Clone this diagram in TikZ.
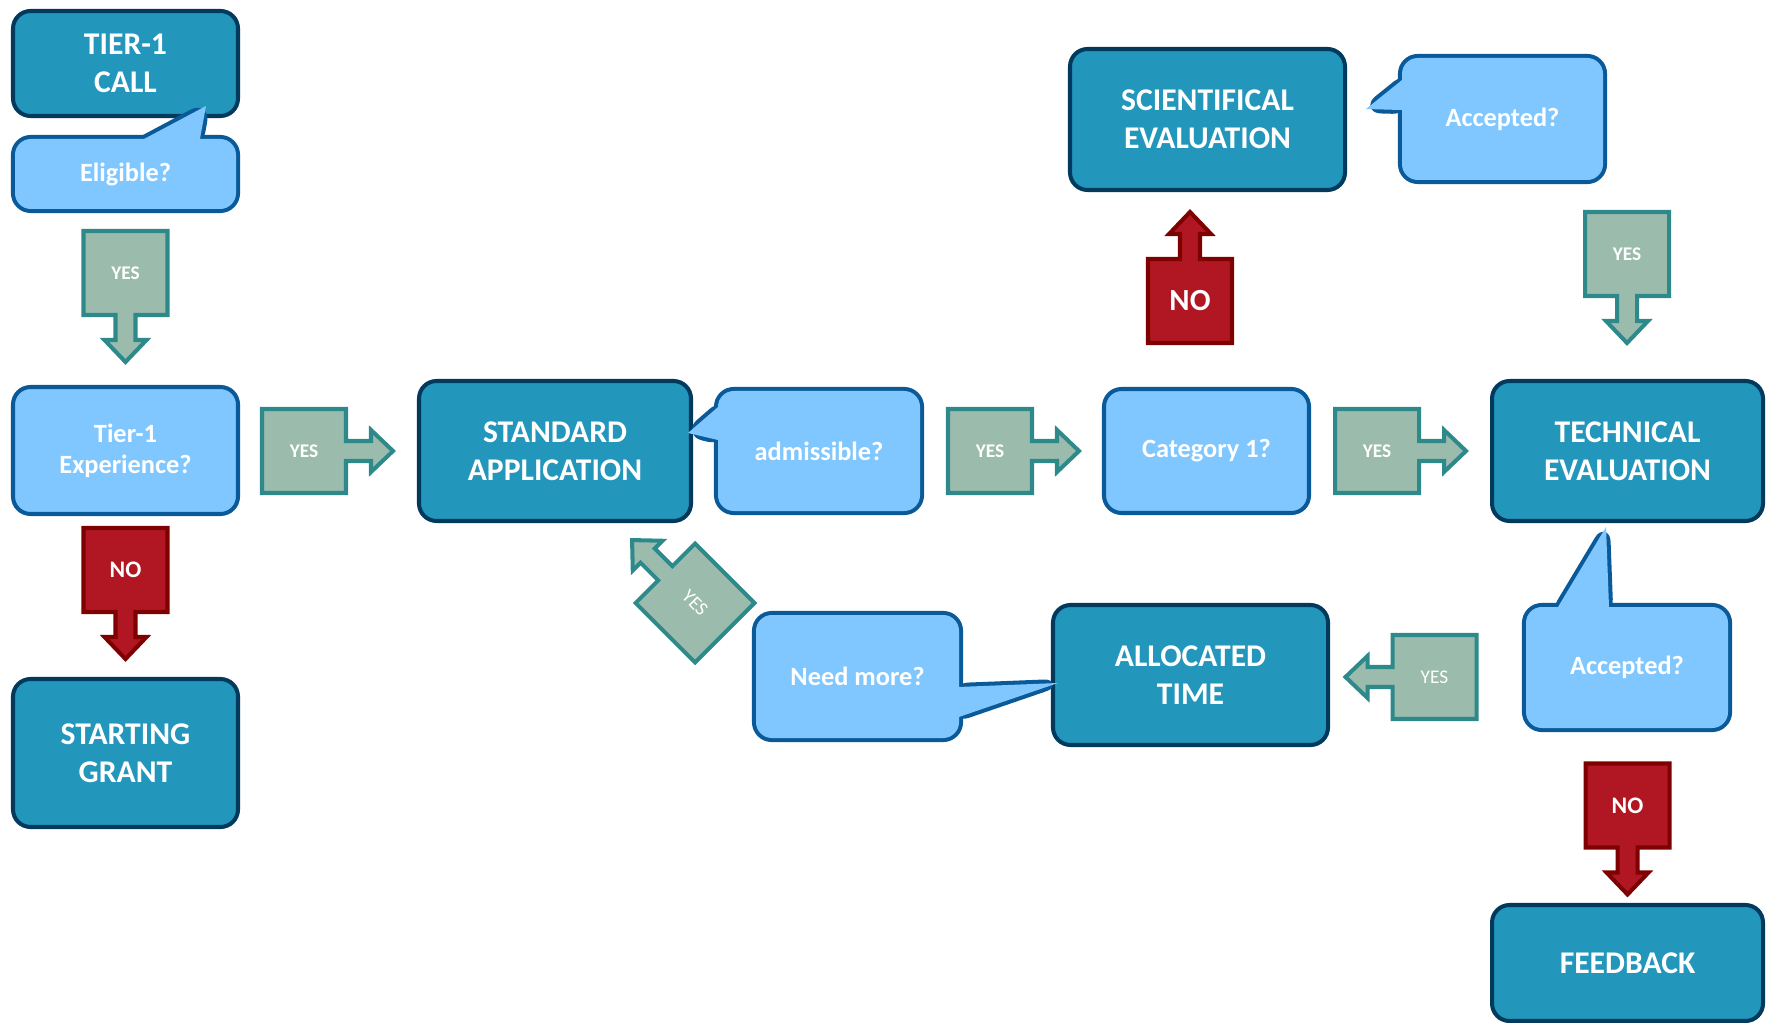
\documentclass[tikz,border=0pt]{standalone}
\usepackage{fontspec}
\setmainfont{Carlito}
\definecolor{dkfill}{RGB}{35,150,187}
\definecolor{dkline}{RGB}{2,58,94}
\definecolor{ltfill}{RGB}{128,199,255}
\definecolor{ltline}{RGB}{10,90,153}
\definecolor{yesfill}{RGB}{155,187,173}
\definecolor{yesline}{RGB}{46,138,138}
\definecolor{nofill}{RGB}{176,23,34}
\definecolor{noline}{RGB}{127,0,0}
\newcommand\pxu{0.02cm}
\newcommand\blockarr[7]{%
  \begin{scope}[shift={(#2,#3)},rotate=#4]
    \draw[#5] (-42,-42) -- (42,-42) -- (42,-10) -- (67,-10) -- (67,-21) -- (89,0) -- (67,21) -- (67,10) -- (42,10) -- (42,42) -- (-42,42) -- cycle;
  \end{scope}
  \node[#6] (#1) at (#2,#3) {#7};
}
\begin{document}
\begin{tikzpicture}[x=0.02cm,y=-0.02cm,
  darkbox/.style={draw=dkline, fill=dkfill, line width=2.3pt, rounded corners=10pt,
    text=white, align=center, inner sep=0pt, font=\bfseries\fontsize{18}{21.5}\selectfont},
  lightbox/.style={draw=ltline, fill=ltfill, line width=2.3pt, rounded corners=10pt,
    text=white, align=center, inner sep=0pt, font=\bfseries\fontsize{15}{17.5}\selectfont},
  callbg/.style={draw=ltline, fill=ltfill, line width=4.6pt, rounded corners=9pt, line join=round, inner sep=0pt},
  callfg/.style={fill=ltfill, rounded corners=9pt, inner sep=0pt, text=white,
    font=\bfseries\fontsize{15}{17.5}\selectfont},
  yesarr/.style={draw=yesline, fill=yesfill, line width=2.3pt},
  noarr/.style={draw=noline, fill=nofill, line width=2.3pt},
  yeslbl/.style={text=white, inner sep=0pt, font=\bfseries\fontsize{11}{13}\selectfont},
  yeslblr/.style={text=white, inner sep=0pt, font=\fontsize{11}{13}\selectfont},
  nolbl/.style={text=white, inner sep=0pt, font=\bfseries\fontsize{13.5}{15}\selectfont},
  nobig/.style={text=white, inner sep=0pt, font=\bfseries\fontsize{17.5}{20}\selectfont},
]
\useasboundingbox (0,0) rectangle (1767,1023);

% dark boxes
\node[darkbox, minimum width=225*\pxu, minimum height=105*\pxu] (call) at (125.5,63.5) {TIER-1\\CALL};
\node[darkbox, minimum width=225*\pxu, minimum height=148*\pxu] (grant) at (125.5,753) {STARTING\\GRANT};
\node[darkbox, minimum width=272*\pxu, minimum height=140*\pxu] (std) at (555,451) {STANDARD\\APPLICATION};
\node[darkbox, minimum width=275*\pxu, minimum height=141*\pxu] (sci) at (1207.5,119.5) {SCIENTIFICAL\\EVALUATION};
\node[darkbox, minimum width=271*\pxu, minimum height=140*\pxu] (tech) at (1627.5,451) {TECHNICAL\\EVALUATION};
\node[darkbox, minimum width=275*\pxu, minimum height=140*\pxu] (alloc) at (1190.5,675) {ALLOCATED\\TIME};
\node[darkbox, minimum width=271*\pxu, minimum height=116*\pxu] (feed) at (1627.5,963) {FEEDBACK};

% light plain boxes
\node[lightbox, minimum width=225*\pxu, minimum height=127*\pxu] (exp) at (125.5,450.5) {Tier-1\\Experience?};
\node[lightbox, minimum width=205*\pxu, minimum height=124*\pxu] (cat) at (1206.5,451) {Category 1?};

% callouts
% Eligible?
\node[callbg, minimum width=221*\pxu, minimum height=70*\pxu] (elig-bg) at (125.5,174) {};
\draw[callbg] (129,147) -- (206,106) -- (198.5,147) -- cycle;
\fill[ltfill] (129,147) -- (206,106) -- (198.5,147) -- cycle;
\node[callfg, minimum width=221*\pxu, minimum height=70*\pxu] (elig) at (125.5,174) {Eligible?};
% admissible?
\node[callbg, minimum width=202*\pxu, minimum height=120*\pxu] (adm-bg) at (819,451) {};
\draw[callbg] (724,401.8) -- (688,433) -- (724,441.4) -- cycle;
\fill[ltfill] (724,401.8) -- (688,433) -- (724,441.4) -- cycle;
\node[callfg, minimum width=202*\pxu, minimum height=120*\pxu] (adm) at (819,451) {admissible?};
% Accepted? (scientific)
\node[callbg, minimum width=201*\pxu, minimum height=122*\pxu] (acc1-bg) at (1502.5,119) {};
\draw[callbg] (1408,75.2) -- (1366,109) -- (1408,110.2) -- cycle;
\fill[ltfill] (1408,75.2) -- (1366,109) -- (1408,110.2) -- cycle;
\node[callfg, minimum width=201*\pxu, minimum height=122*\pxu] (acc1) at (1502.5,119) {Accepted?};
% Accepted? (technical)
\node[callbg, minimum width=202*\pxu, minimum height=121*\pxu] (acc2-bg) at (1627,667.5) {};
\draw[callbg] (1553.2,615) -- (1606,527) -- (1609.3,615) -- cycle;
\fill[ltfill] (1553.2,615) -- (1606,527) -- (1609.3,615) -- cycle;
\node[callfg, minimum width=202*\pxu, minimum height=121*\pxu] (acc2) at (1627,667.5) {Accepted?};
% Need more?
\node[callbg, minimum width=203*\pxu, minimum height=123*\pxu] (need-bg) at (857.5,676.5) {};
\draw[callbg] (953,687.2) -- (1058,683) -- (953,719) -- cycle;
\fill[ltfill] (953,687.2) -- (1058,683) -- (953,719) -- cycle;
\node[callfg, minimum width=203*\pxu, minimum height=123*\pxu] (need) at (857.5,676.5) {Need more?};

% block arrows
\blockarr{yes1}{125.5}{273}{-90}{yesarr}{yeslbl}{YES}
\blockarr{no1}{125.5}{570}{-90}{noarr}{nolbl}{NO}
\blockarr{yes2}{304}{451}{0}{yesarr}{yeslbl}{YES}
\blockarr{yes3}{990}{451}{0}{yesarr}{yeslbl}{YES}
\blockarr{yes4}{1377}{451}{0}{yesarr}{yeslbl}{YES}
\blockarr{no2}{1190}{301}{90}{noarr}{nobig}{NO}
\blockarr{yes5}{1627}{254}{-90}{yesarr}{yeslbl}{YES}
\blockarr{no3}{1627.5}{805.5}{-90}{noarr}{nolbl}{NO}
\blockarr{yes6}{1434.5}{677}{180}{yesarr}{yeslblr}{YES}
\blockarr{yes7}{695}{603}{135}{yesarr}{yeslblr,rotate=-45}{YES}
\end{tikzpicture}
\end{document}
